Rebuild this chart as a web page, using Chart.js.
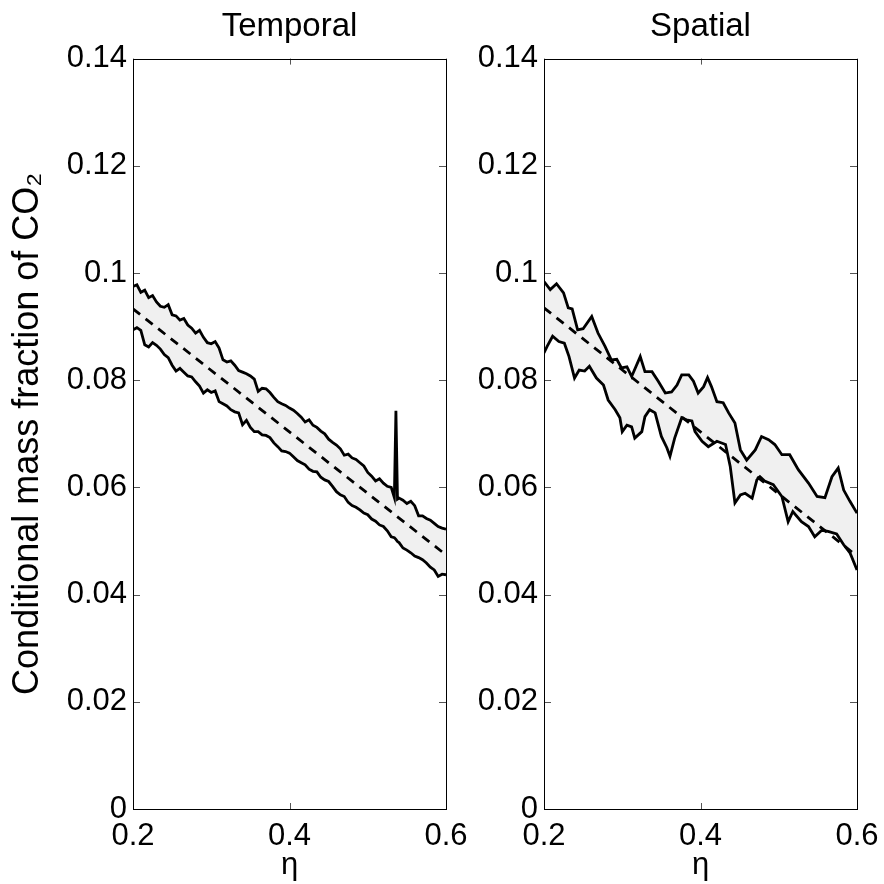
<!DOCTYPE html>
<html>
<head>
<meta charset="utf-8">
<script src="https://cdn.jsdelivr.net/npm/chart.js@4/dist/chart.umd.min.js"></script>
<style>
  html, body { margin: 0; padding: 0; background: #fff; }
  .panel { position: absolute; left: 0; top: 0; width: 884px; height: 884px; }
</style>
</head>
<body>
<canvas id="temporal" class="panel" width="884" height="884"></canvas>
<canvas id="spatial" class="panel" width="884" height="884"></canvas>
<script>
// axis ticks
const xTicks = [0.2, 0.4, 0.6];
const yTicks = [0, 0.02, 0.04, 0.06, 0.08, 0.1, 0.12, 0.14];

// Temporal panel
const etaT = [0.200, 0.205, 0.210, 0.215, 0.220, 0.225, 0.230, 0.235, 0.240, 0.245, 0.250, 0.255, 0.260, 0.265, 0.270, 0.275, 0.280, 0.285, 0.290, 0.295,
  0.300, 0.305, 0.310, 0.315, 0.320, 0.325, 0.330, 0.335, 0.340, 0.345, 0.350, 0.355, 0.360, 0.365, 0.370, 0.375, 0.380, 0.385, 0.390, 0.395,
  0.400, 0.405, 0.410, 0.415, 0.420, 0.425, 0.430, 0.435, 0.440, 0.445, 0.450, 0.455, 0.460, 0.465, 0.470, 0.475, 0.480, 0.485, 0.490, 0.495,
  0.500, 0.505, 0.510, 0.515, 0.520, 0.525, 0.530, 0.534, 0.536, 0.538, 0.540, 0.545, 0.550, 0.555, 0.560, 0.565, 0.570, 0.575, 0.580, 0.585,
  0.590, 0.595, 0.600];
const upperT = [0.0975, 0.0978, 0.0964, 0.0968, 0.0954, 0.0958, 0.0946, 0.0938, 0.0936, 0.0941, 0.0922, 0.0920, 0.0912, 0.0915, 0.0903, 0.0897, 0.0888, 0.0893, 0.0880, 0.0870,
  0.0868, 0.0872, 0.0860, 0.0838, 0.0834, 0.0836, 0.0828, 0.0818, 0.0815, 0.0812, 0.0808, 0.0802, 0.0779, 0.0785, 0.0784, 0.0777, 0.0768, 0.0760, 0.0756, 0.0753,
  0.0748, 0.0744, 0.0738, 0.0731, 0.0722, 0.0726, 0.0716, 0.0712, 0.0705, 0.0700, 0.0690, 0.0684, 0.0679, 0.0672, 0.0660, 0.0662, 0.0655, 0.0652, 0.0646, 0.0640,
  0.0628, 0.0621, 0.0612, 0.0616, 0.0608, 0.0602, 0.0600, 0.0581, 0.0743, 0.0578, 0.0580, 0.0576, 0.0570, 0.0574, 0.0566, 0.0547, 0.0547, 0.0542, 0.0539, 0.0533,
  0.0527, 0.0524, 0.0522];
const lowerT = [0.0894, 0.0898, 0.0893, 0.0866, 0.0862, 0.0870, 0.0865, 0.0858, 0.0848, 0.0842, 0.0828, 0.0817, 0.0822, 0.0815, 0.0808, 0.0806, 0.0797, 0.0789, 0.0776, 0.0782,
  0.0777, 0.0780, 0.0760, 0.0756, 0.0752, 0.0745, 0.0741, 0.0739, 0.0717, 0.0725, 0.0712, 0.0704, 0.0704, 0.0698, 0.0697, 0.0693, 0.0683, 0.0676, 0.0668, 0.0667,
  0.0664, 0.0657, 0.0650, 0.0646, 0.0642, 0.0634, 0.0630, 0.0629, 0.0619, 0.0614, 0.0611, 0.0602, 0.0592, 0.0586, 0.0583, 0.0572, 0.0566, 0.0563, 0.0558, 0.0552,
  0.0549, 0.0541, 0.0537, 0.0530, 0.0527, 0.0519, 0.0508, 0.0506, 0.0503, 0.0499, 0.0497, 0.0487, 0.0483, 0.0478, 0.0472, 0.0469, 0.0465, 0.0459, 0.0451, 0.0446,
  0.0434, 0.0438, 0.0437];
const etaMeanT = [0.2, 0.6];
const meanT = [0.0933, 0.0474];

// Spatial panel
const etaUpperS = [0.200, 0.208, 0.216, 0.225, 0.231, 0.236, 0.243, 0.250, 0.261, 0.269, 0.278, 0.286, 0.293, 0.299, 0.306, 0.312, 0.323, 0.329, 0.338, 0.346,
  0.355, 0.363, 0.370, 0.376, 0.385, 0.391, 0.397, 0.404, 0.409, 0.414, 0.421, 0.429, 0.436, 0.444, 0.451, 0.459, 0.470, 0.478, 0.487, 0.495,
  0.504, 0.514, 0.525, 0.538, 0.549, 0.559, 0.568, 0.576, 0.583, 0.591, 0.600];
const upperS = [0.0984, 0.0969, 0.0980, 0.0963, 0.0935, 0.0933, 0.0894, 0.0896, 0.0919, 0.0888, 0.0863, 0.0838, 0.0839, 0.0823, 0.0825, 0.0807, 0.0844, 0.0816, 0.0816, 0.0798,
  0.0776, 0.0778, 0.0791, 0.0810, 0.0810, 0.0798, 0.0776, 0.0788, 0.0805, 0.0788, 0.0760, 0.0758, 0.0739, 0.0720, 0.0670, 0.0651, 0.0670, 0.0695, 0.0689, 0.0680,
  0.0661, 0.0661, 0.0633, 0.0608, 0.0583, 0.0581, 0.0620, 0.0636, 0.0595, 0.0574, 0.0552];
const etaLowerS = [0.200, 0.204, 0.211, 0.219, 0.226, 0.232, 0.239, 0.245, 0.252, 0.258, 0.267, 0.276, 0.282, 0.291, 0.297, 0.300, 0.306, 0.312, 0.316, 0.325,
  0.329, 0.335, 0.342, 0.350, 0.357, 0.361, 0.367, 0.376, 0.382, 0.389, 0.393, 0.402, 0.410, 0.421, 0.432, 0.438, 0.444, 0.451, 0.457, 0.466,
  0.472, 0.476, 0.482, 0.493, 0.504, 0.512, 0.518, 0.529, 0.538, 0.546, 0.555, 0.563, 0.574, 0.583, 0.591, 0.600];
const lowerS = [0.0851, 0.0863, 0.0882, 0.0872, 0.0869, 0.0844, 0.0804, 0.0819, 0.0817, 0.0826, 0.0804, 0.0791, 0.0763, 0.0745, 0.0730, 0.0704, 0.0716, 0.0713, 0.0692, 0.0704,
  0.0732, 0.0745, 0.0739, 0.0695, 0.0674, 0.0658, 0.0692, 0.0730, 0.0726, 0.0724, 0.0704, 0.0686, 0.0676, 0.0686, 0.0680, 0.0639, 0.0571, 0.0586, 0.0589, 0.0580,
  0.0614, 0.0620, 0.0612, 0.0605, 0.0583, 0.0536, 0.0555, 0.0536, 0.0527, 0.0508, 0.0520, 0.0518, 0.0513, 0.0493, 0.0478, 0.0446];
const etaMeanS = [0.2, 0.6];
const meanS = [0.0935, 0.0472];

const FONT = "'Liberation Sans', Arial, sans-serif";

function pts(xs, ys) {
  return xs.map((x, i) => ({ x, y: ys[i] }));
}

// shaded band: upper curve followed by the lower curve backwards
function band(xu, yu, xl, yl) {
  return pts(xu, yu).concat(pts(xl, yl).reverse());
}

// box around the plot and short inward ticks, like the original figure
const frameTicks = {
  id: 'frameTicks',
  afterDatasetsDraw(chart) {
    const { ctx, chartArea: a, scales } = chart;
    ctx.save();
    ctx.strokeStyle = '#555';
    ctx.lineWidth = 1;
    ctx.beginPath();
    scales.x.ticks.forEach((t) => {
      const px = Math.round(scales.x.getPixelForValue(t.value)) + 0.5;
      ctx.moveTo(px, a.bottom); ctx.lineTo(px, a.bottom - 6);
      ctx.moveTo(px, a.top); ctx.lineTo(px, a.top + 6);
    });
    scales.y.ticks.forEach((t) => {
      const py = Math.round(scales.y.getPixelForValue(t.value)) + 0.5;
      ctx.moveTo(a.left, py); ctx.lineTo(a.left + 7, py);
      ctx.moveTo(a.right, py); ctx.lineTo(a.right - 7, py);
    });
    ctx.stroke();
    ctx.strokeStyle = '#000';
    ctx.strokeRect(Math.round(a.left) + 0.5, Math.round(a.top) + 0.5,
      Math.round(a.right - a.left), Math.round(a.bottom - a.top));
    ctx.restore();
  }
};

function makePanel(id, cfg) {
  const solid = { borderColor: '#000', borderWidth: 2.8, pointRadius: 0, tension: 0, fill: false };
  new Chart(document.getElementById(id), {
    type: 'line',
    data: {
      datasets: [
        { ...solid, data: pts(cfg.etaUpper, cfg.upper) },
        { ...solid, data: pts(cfg.etaLower, cfg.lower) },
        { ...solid, data: pts(cfg.etaMean, cfg.mean), borderDash: [9, 7] },
        {
          data: band(cfg.etaUpper, cfg.upper, cfg.etaLower, cfg.lower),
          borderWidth: 0, pointRadius: 0, tension: 0,
          fill: 'shape', backgroundColor: '#f0f0f0'
        }
      ]
    },
    options: {
      responsive: false,
      animation: false,
      events: [],
      layout: { padding: { left: 0, top: 0, right: cfg.padRight, bottom: 0 } },
      plugins: {
        legend: { display: false },
        tooltip: { enabled: false },
        title: {
          display: true,
          text: cfg.title,
          fullSize: false,
          color: '#000',
          font: { family: FONT, size: 33, weight: 'normal' },
          padding: { top: 7, bottom: 12 }
        }
      },
      scales: {
        x: {
          type: 'linear',
          min: 0.2,
          max: 0.6,
          afterFit: (s) => { s.height = 75; s.paddingLeft = 0; s.paddingRight = 0; },
          grid: { display: false, drawTicks: false },
          border: { display: false },
          ticks: {
            stepSize: 0.2,
            padding: 9,
            color: '#000',
            font: { family: FONT, size: 31 },
            callback: (v) => String(+v.toFixed(2))
          },
          afterBuildTicks: (s) => { s.ticks = xTicks.map((v) => ({ value: v })); },
          title: {
            display: true,
            text: 'η',
            color: '#000',
            font: { family: FONT, size: 31 },
            padding: { top: 0, bottom: 0 }
          }
        },
        y: {
          min: 0,
          max: 0.14,
          afterFit: (s) => { s.width = cfg.yWidth; s.paddingTop = 0; s.paddingBottom = 0; },
          grid: { display: false, drawTicks: false },
          border: { display: false },
          ticks: {
            stepSize: 0.02,
            padding: 6,
            color: '#000',
            font: { family: FONT, size: 31 },
            callback: (v) => String(+v.toFixed(2))
          },
          afterBuildTicks: (s) => { s.ticks = yTicks.map((v) => ({ value: v })); },
          title: {
            display: cfg.yTitle !== '',
            text: cfg.yTitle,
            color: '#000',
            font: { family: FONT, size: 36 },
            padding: { top: 6, bottom: 0 }
          }
        }
      }
    },
    plugins: [frameTicks]
  });
}

makePanel('temporal', {
  title: 'Temporal',
  yTitle: 'Conditional mass fraction of CO₂',
  yWidth: 133,
  padRight: 884 - 446,
  etaUpper: etaT, upper: upperT,
  etaLower: etaT, lower: lowerT,
  etaMean: etaMeanT, mean: meanT
});

makePanel('spatial', {
  title: 'Spatial',
  yTitle: '',
  yWidth: 544,
  padRight: 884 - 857,
  etaUpper: etaUpperS, upper: upperS,
  etaLower: etaLowerS, lower: lowerS,
  etaMean: etaMeanS, mean: meanS
});
</script>
</body>
</html>
